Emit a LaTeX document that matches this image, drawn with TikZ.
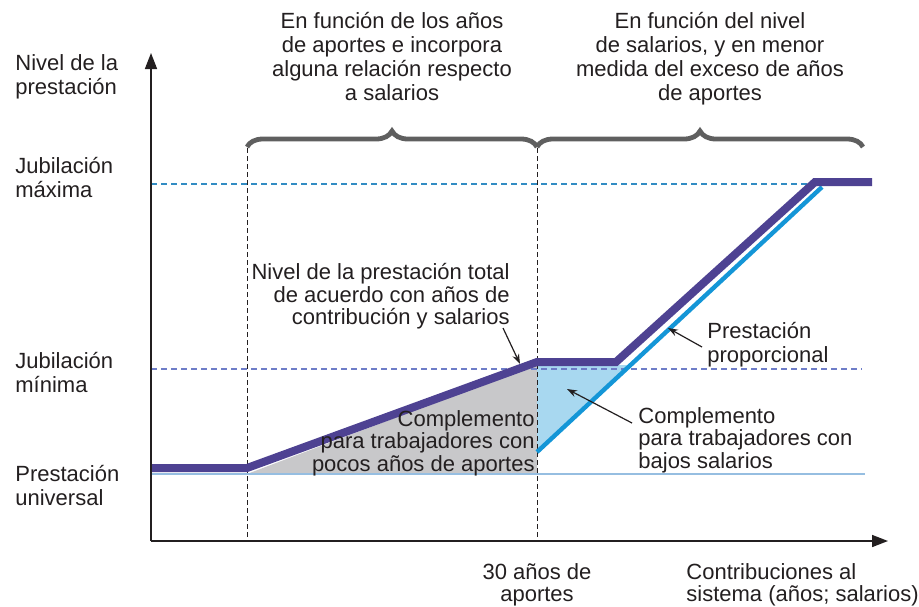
\documentclass[tikz,border=0pt]{standalone}
\usepackage{fontspec}
\setmainfont{Liberation Sans}
\usetikzlibrary{decorations.pathreplacing,arrows.meta}
\definecolor{txt}{RGB}{35,31,32}
\definecolor{purp}{RGB}{78,66,146}
\definecolor{bline}{RGB}{20,150,215}
\definecolor{bfill}{RGB}{168,216,240}
\definecolor{gfill}{RGB}{200,200,202}
\definecolor{maxc}{RGB}{50,140,195}
\definecolor{minc}{RGB}{110,125,200}
\definecolor{univ}{RGB}{150,190,225}
\definecolor{brc}{RGB}{95,95,95}
\begin{document}
\begin{tikzpicture}[x=0.5pt,y=-0.5pt,
  lbl/.style={font=\fontsize{11}{12}\selectfont, text=txt, inner sep=0pt},
  vdash/.style={draw=txt, line width=0.5pt, dash pattern=on 2.5pt off 1.5pt},
  hdash/.style={line width=0.6pt, dash pattern=on 3pt off 2pt},
  bracestyle/.style={draw=brc, line width=2.4pt, decorate, decoration={brace, amplitude=8pt}},
  pointer/.style={draw=txt, line width=0.6pt, -{Stealth[length=5pt,width=3.5pt]}},
  axis/.style={draw=txt, line width=0.8pt, -{Triangle[length=8pt,width=6pt]}}]
\useasboundingbox (0,0) rectangle (919,606);
% key points
\coordinate (o) at (151,541);
\coordinate (ytop) at (151,53);
\coordinate (xend) at (888,541);
\coordinate (u0) at (151,468);
\coordinate (u1) at (247,468);
\coordinate (p30) at (537,362);
\coordinate (pflat) at (616,362);
\coordinate (pmax) at (815,182);
\coordinate (pend) at (872,182);
\coordinate (b0) at (537,452);
\coordinate (b1) at (822,187);
% fills
\fill[gfill] (247,474) -- (537,364) -- (537,474) -- cycle;
\fill[bfill] (537,365) -- (537,452) -- (628,365) -- cycle;
% reference lines
\draw[univ, line width=0.8pt] (151,474) -- (865,474);
\draw[hdash, maxc] (151,184) -- (815,184);
\draw[hdash, minc] (151,369) -- (862,369);
% vertical dashed
\draw[vdash] (247,148) -- (247,541);
\draw[vdash] (537,148) -- (537,541);
% braces
\draw[bracestyle] (247,147) -- (537,147);
\draw[bracestyle] (537,147) -- (863,147);
% curves
\draw[bline, line width=2.2pt] (b0) -- (b1);
\draw[purp, line width=4pt, line join=miter] (u0) -- (u1) -- (p30) -- (pflat) -- (pmax) -- (pend);
% axes
\draw[axis] (o) -- (ytop);
\draw[axis] (o) -- (xend);
% left labels
\node[lbl, anchor=north west, align=left] (lnivel) at (15,54) {Nivel de la\\prestación};
\node[lbl, anchor=north west, align=left] (lmax) at (15,157) {Jubilación\\máxima};
\node[lbl, anchor=north west, align=left] (lmin) at (15,352) {Jubilación\\mínima};
\node[lbl, anchor=north west, align=left] (luniv) at (15,465) {Prestación\\universal};
% top labels
\node[lbl, anchor=north, align=center] (top1) at (392,12) {En función de los años\\de aportes e incorpora\\alguna relación respecto\\a salarios};
\node[lbl, anchor=north, align=center] (top2) at (710,12) {En función del nivel\\de salarios, y en menor\\medida del exceso de años\\de aportes};
% bottom labels
\node[lbl, font=\fontsize{11}{11}\selectfont, anchor=north, align=center] (b30) at (537,563) {30 años de\\aportes};
\node[lbl, font=\fontsize{11}{11}\selectfont, anchor=north west, align=left] (bcontr) at (686,563) {Contribuciones al\\sistema (años; salarios)};
% middle labels
\node[lbl, font=\fontsize{11}{11.3}\selectfont, anchor=north east, align=right] (ltotal) at (510,263) {Nivel de la prestación total\\de acuerdo con años de\\contribución y salarios};
\node[lbl, anchor=north west, align=left] (lprop) at (707,322) {Prestación\\proporcional};
\node[lbl, font=\fontsize{11}{11.3}\selectfont, anchor=north west, align=left] (lbajos) at (638,407) {Complemento\\para trabajadores con\\bajos salarios};
\node[lbl, font=\fontsize{11}{11.3}\selectfont, anchor=north east, align=right] (lpocos) at (535,410) {Complemento\\para trabajadores con\\pocos años de aportes};
% pointers
\coordinate (ttip) at (520,364);
\coordinate (tstart) at (503,328);
\draw[pointer] (tstart) -- (ttip);
\coordinate (ptip) at (668,328);
\coordinate (pstart) at (702,347);
\draw[pointer] (pstart) -- (ptip);
\coordinate (btip) at (567,389);
\coordinate (bstart) at (632,423);
\draw[pointer] (bstart) -- (btip);
\end{tikzpicture}
\end{document}
